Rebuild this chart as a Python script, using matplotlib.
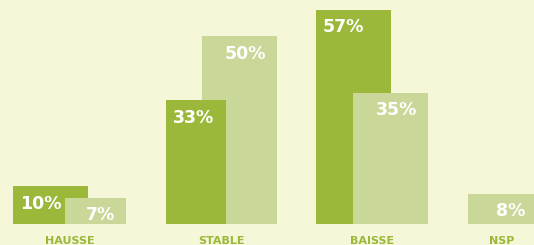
#!/usr/bin/env python3
import matplotlib
matplotlib.use('Agg')
import matplotlib.pyplot as plt

categories = ['HAUSSE', 'STABLE', 'BAISSE', 'NSP']
dark_values = [10, 33, 57, 0]
light_values = [7, 50, 35, 8]

# layout (pixels, from the left edge)
dark_left = [13, 166, 316, 0]
dark_width = [75, 60, 75, 0]
light_left = [65, 202, 353, 468]
light_width = [61, 75, 75, 68]

BG = '#f6f6d8'
DARK = '#9bb83b'
LIGHT = '#c9d798'
W, H = 534, 245
BASE = 21          # baseline, pixels from bottom
PX = 214 / 57      # pixels per percent


def create_plot():
    fig = plt.figure(figsize=(W / 100, H / 100), dpi=100)
    fig.patch.set_facecolor(BG)
    ax = fig.add_axes([0, 0, 1, 1])
    ax.set_facecolor(BG)
    ax.set_xlim(0, W)
    ax.set_ylim(-BASE / PX, (H - BASE) / PX)
    ax.axis('off')

    for i, cat in enumerate(categories):
        d, l = dark_values[i], light_values[i]
        # the shorter bar sits in front
        zd, zl = (3, 2) if d < l else (2, 3)
        if d > 0:
            ax.bar(dark_left[i], d, width=dark_width[i], align='edge',
                   color=DARK, zorder=zd)
            ax.text(dark_left[i] + 7, d - 22.5 / PX, f'{d}%', color='white',
                    fontsize=12.5, fontweight='bold', ha='left', va='baseline',
                    zorder=zd)
        if l > 0:
            ax.bar(light_left[i], l, width=light_width[i], align='edge',
                   color=LIGHT, zorder=zl)
            ax.text(light_left[i] + light_width[i] - 11, l - 22.5 / PX, f'{l}%',
                    color='white', fontsize=12.5, fontweight='bold', ha='right',
                    va='baseline', zorder=zl)
        lefts = [light_left[i]] + ([dark_left[i]] if d > 0 else [])
        rights = [light_left[i] + light_width[i]] + \
            ([dark_left[i] + dark_width[i]] if d > 0 else [])
        cx = (min(lefts) + max(rights)) / 2
        ax.text(cx, -20 / PX, cat, color=DARK, fontsize=8, fontweight='bold',
                ha='center', va='baseline')

    fig.savefig('out.png', dpi=100, facecolor=BG)


if __name__ == "__main__":
    create_plot()
